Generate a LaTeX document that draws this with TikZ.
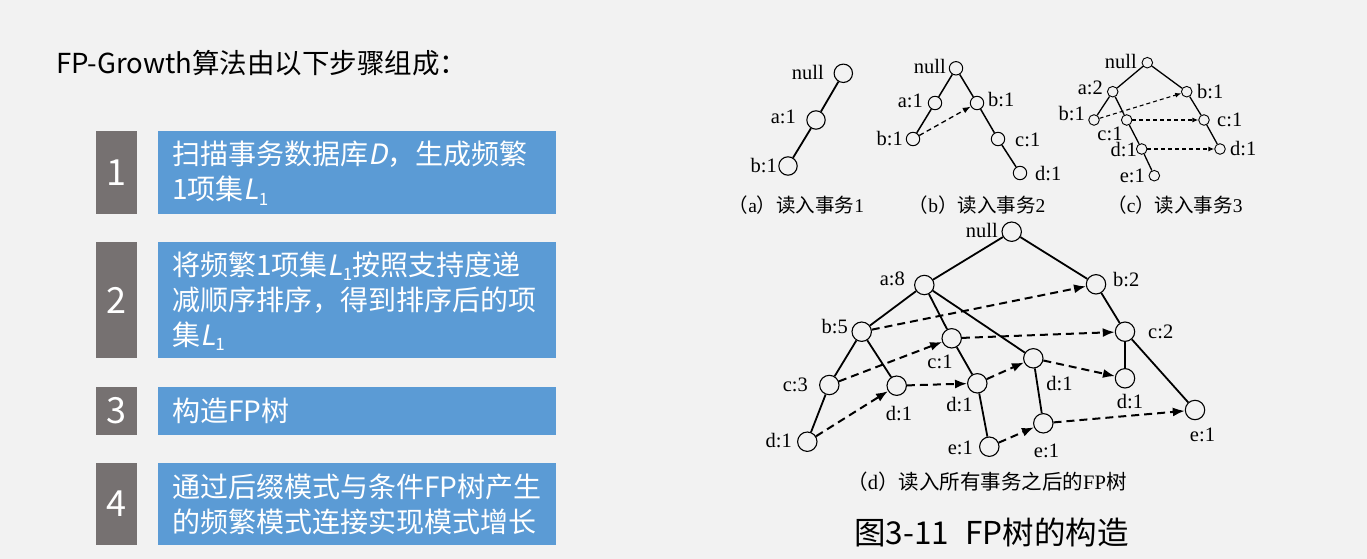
\documentclass[tikz,border=0pt]{standalone}
\usepackage{fontspec}
\setmainfont{Liberation Serif}
\newfontfamily\cjk{Noto Sans CJK SC}
\newfontfamily\cjkit{Noto Sans CJK SC}[FakeSlant=0.2]
\newfontfamily\tms{Liberation Serif}
\usetikzlibrary{arrows.meta}
\definecolor{bg}{HTML}{F2F2F2}
\definecolor{numgray}{HTML}{767171}
\definecolor{boxblue}{HTML}{5B9BD5}
\newcommand\Lone{{\cjkit L}\raisebox{-0.2em}{\fontsize{17}{17}\selectfont 1}}
\newcommand\mycap[3]{{\cjk （}{\tms #1}{\cjk ）#2}{\tms #3}}
\begin{document}
\begin{tikzpicture}[x=1pt,y=-1pt,
  vtxA/.style={circle,draw,fill=bg,inner sep=0,minimum size=18.4,line width=1.1},
  vtxB/.style={circle,draw,fill=bg,inner sep=0,minimum size=13.4,line width=1},
  vtxC/.style={circle,draw,fill=bg,inner sep=0,minimum size=10.6,line width=0.9},
  vtxD/.style={circle,draw,fill=bg,inner sep=0,minimum size=19.4,line width=1.1},
  edgeA/.style={line width=1.8},
  edgeB/.style={line width=1.5},
  edgeC/.style={line width=1.3},
  darrB/.style={line width=1.3,dash pattern=on 5pt off 3.5pt,-{Latex[length=8pt,width=6pt]}},
  darrC/.style={line width=1.1,dash pattern=on 4pt off 3pt,-{Latex[length=6pt,width=5pt]}},
  darrD/.style={line width=2,dash pattern=on 8pt off 5pt,-{Latex[length=12pt,width=9pt]}},
  lab/.style={inner sep=0,font=\tms\fontsize{20.5}{20.5}\selectfont},
  capt/.style={inner sep=0,font=\fontsize{19.5}{19.5}\selectfont},
  numbox/.style={fill=numgray,text=white,inner sep=0,minimum width=41,font=\cjk\fontsize{36}{36}\selectfont},
  bluebox/.style={fill=boxblue,inner sep=0,minimum width=398},
  boxtext/.style={anchor=west,inner sep=0,align=left,text=white,font=\cjk\fontsize{28}{35}\selectfont}
]
\fill[bg] (0,0) rectangle (1367,559);
\useasboundingbox (0,0) rectangle (1367,559);

% ---------- left part ----------
\node[anchor=west,inner sep=0,font=\cjk\fontsize{27.5}{27.5}\selectfont] (title) at (56,63) {FP-Growth算法由以下步骤组成：};

\node[numbox,minimum height=83] (n1) at (116.5,172.5) {1};
\node[bluebox,minimum height=83] (b1) at (357,172.5) {};
\node[boxtext] (t1) at (172,173) {扫描事务数据库{\cjkit D}，生成频繁\\1项集\Lone};

\node[numbox,minimum height=116] (n2) at (116.5,300) {2};
\node[bluebox,minimum height=116] (b2) at (357,300) {};
\node[boxtext] (t2) at (172,301) {将频繁1项集\Lone 按照支持度递\\减顺序排序，得到排序后的项\\集\Lone};

\node[numbox,minimum height=48] (n3) at (116.5,411) {3};
\node[bluebox,minimum height=48] (b3) at (357,411) {};
\node[boxtext] (t3) at (172,411) {构造FP树};

\node[numbox,minimum height=82] (n4) at (116.5,504) {4};
\node[bluebox,minimum height=82] (b4) at (357,504) {};
\node[boxtext] (t4) at (172,504) {通过后缀模式与条件FP树产生\\的频繁模式连接实现模式增长};

% ---------- tree (a) ----------
\node[vtxA] (a0) at (843.3,73.3) {};
\node[vtxA] (a1) at (816,120) {};
\node[vtxA] (a2) at (788,166) {};
\draw[edgeA] (a0) -- (a1);
\draw[edgeA] (a1) -- (a2);
\node[lab,anchor=east] (la0) at (824,72) {null};
\node[lab,anchor=east] (la1) at (796,117) {a:1};
\node[lab,anchor=east] (la2) at (777,166) {b:1};
\node[capt] (capa) at (796.5,205) {\mycap{a}{读入事务}{1}};

% ---------- tree (b) ----------
\node[vtxB] (b0) at (956,68.3) {};
\node[vtxB] (ba) at (935,103) {};
\node[vtxB] (bbl) at (913,139) {};
\node[vtxB] (bbr) at (977,103) {};
\node[vtxB] (bc) at (998,139) {};
\node[vtxB] (bd) at (1020,173) {};
\draw[edgeB] (b0) -- (ba);
\draw[edgeB] (ba) -- (bbl);
\draw[edgeB] (b0) -- (bbr);
\draw[edgeB] (bbr) -- (bc);
\draw[edgeB] (bc) -- (bd);
\draw[darrB] (bbl) -- (bbr);
\node[lab,anchor=east] (lb0) at (946,66) {null};
\node[lab,anchor=east] (lba) at (923,101) {a:1};
\node[lab,anchor=east] (lbbl) at (903,139) {b:1};
\node[lab,anchor=west] (lbbr) at (988,100) {b:1};
\node[lab,anchor=west] (lbc) at (1015,140) {c:1};
\node[lab,anchor=west] (lbd) at (1035,174) {d:1};
\node[capt] (capb) at (977,205) {\mycap{b}{读入事务}{2}};

% ---------- tree (c) ----------
\node[vtxC] (c0) at (1147.3,62.7) {};
\node[vtxC] (ca) at (1112.7,91.7) {};
\node[vtxC] (cbr) at (1186.7,91.7) {};
\node[vtxC] (cbl) at (1094,120) {};
\node[vtxC] (ccm) at (1126.7,120) {};
\node[vtxC] (ccr) at (1204,120) {};
\node[vtxC] (cdm) at (1141.7,149) {};
\node[vtxC] (cdr) at (1220,149) {};
\node[vtxC] (ce) at (1154.3,175.7) {};
\draw[edgeC] (c0) -- (ca);
\draw[edgeC] (c0) -- (cbr);
\draw[edgeC] (ca) -- (cbl);
\draw[edgeC] (ca) -- (ccm);
\draw[edgeC] (ccm) -- (cdm);
\draw[edgeC] (cdm) -- (ce);
\draw[edgeC] (cbr) -- (ccr);
\draw[edgeC] (ccr) -- (cdr);
\draw[darrC] (cbl) -- (cbr);
\draw[darrC] (ccm) -- (ccr);
\draw[darrC] (cdm) -- (cdr);
\node[lab,anchor=east] (lc0) at (1137,61) {null};
\node[lab,anchor=east] (lca) at (1103,88) {a:2};
\node[lab,anchor=west] (lcbr) at (1197,92) {b:1};
\node[lab,anchor=east] (lcbl) at (1085,114) {b:1};
\node[lab] (lccm) at (1110,134) {c:1};
\node[lab,anchor=west] (lccr) at (1217,120) {c:1};
\node[lab,anchor=east] (lcdm) at (1137,150) {d:1};
\node[lab,anchor=west] (lcdr) at (1230,149) {d:1};
\node[lab,anchor=east] (lce) at (1145,176) {e:1};
\node[capt] (capc) at (1175,205) {\mycap{c}{读入事务}{3}};

% ---------- tree (d) ----------
\node[vtxD] (dn) at (1011.7,231.7) {};
\node[vtxD] (da8) at (924.3,285) {};
\node[vtxD] (db2) at (1096,284.3) {};
\node[vtxD] (db5) at (861.7,331.7) {};
\node[vtxD] (dc1) at (951.7,338.3) {};
\node[vtxD] (dc2) at (1125,331.7) {};
\node[vtxD] (dd1mr) at (1033.3,358.3) {};
\node[vtxD] (dc3) at (829.3,385) {};
\node[vtxD] (dd1b5) at (896.7,385.7) {};
\node[vtxD] (dd1c1) at (977.3,383.3) {};
\node[vtxD] (dd1c2) at (1125,378.3) {};
\node[vtxD] (dd1c3) at (807.3,441.7) {};
\node[vtxD] (de1c1) at (989.3,446.7) {};
\node[vtxD] (de1mr) at (1043.3,423.3) {};
\node[vtxD] (de1c2) at (1195,410) {};
\draw[edgeA] (dn) -- (da8);
\draw[edgeA] (dn) -- (db2);
\draw[edgeA] (da8) -- (db5);
\draw[edgeA] (da8) -- (dc1);
\draw[edgeA] (da8) -- (dd1mr);
\draw[edgeA] (db5) -- (dc3);
\draw[edgeA] (db5) -- (dd1b5);
\draw[edgeA] (dc3) -- (dd1c3);
\draw[edgeA] (dc1) -- (dd1c1);
\draw[edgeA] (dd1c1) -- (de1c1);
\draw[edgeA] (dd1mr) -- (de1mr);
\draw[edgeA] (db2) -- (dc2);
\draw[edgeA] (dc2) -- (dd1c2);
\draw[edgeA] (dc2) -- (de1c2);
\draw[darrD] (db5) -- (db2);
\draw[darrD] (dc3) -- (dc1);
\draw[darrD] (dc1) -- (dc2);
\draw[darrD] (dd1c3) -- (dd1b5);
\draw[darrD] (dd1b5) -- (dd1c1);
\draw[darrD] (dd1c1) -- (dd1mr);
\draw[darrD] (dd1mr) -- (dd1c2);
\draw[darrD] (de1c1) -- (de1mr);
\draw[darrD] (de1mr) -- (de1c2);
\node[lab,anchor=east] (ldn) at (998,230) {null};
\node[lab,anchor=east] (lda8) at (905,278.5) {a:8};
\node[lab,anchor=west] (ldb2) at (1113,280) {b:2};
\node[lab,anchor=east] (ldb5) at (848,327) {b:5};
\node[lab] (ldc1) at (940,361.5) {c:1};
\node[lab,anchor=west] (ldc2) at (1148,331.5) {c:2};
\node[lab] (ldd1mr) at (1059.5,383.5) {d:1};
\node[lab,anchor=east] (ldc3) at (808,385) {c:3};
\node[lab] (ldd1b5) at (899,413.5) {d:1};
\node[lab] (ldd1c1) at (959.5,404.5) {d:1};
\node[lab] (ldd1c2) at (1130,401.5) {d:1};
\node[lab,anchor=east] (ldd1c3) at (792,441) {d:1};
\node[lab,anchor=east] (lde1c1) at (973,448) {e:1};
\node[lab] (lde1mr) at (1046.5,451) {e:1};
\node[lab] (lde1c2) at (1202.5,435) {e:1};
\node[inner sep=0,font=\fontsize{20.5}{20.5}\selectfont] (capd) at (987,482) {{\cjk （}{\tms d}{\cjk ）读入所有事务之后的}{\tms FP}{\cjk 树}};

\node[inner sep=0,font=\cjk\fontsize{31.5}{31.5}\selectfont] (figcap) at (991.5,532) {图3-11\hspace{16pt}FP树的构造};
\end{tikzpicture}
\end{document}
